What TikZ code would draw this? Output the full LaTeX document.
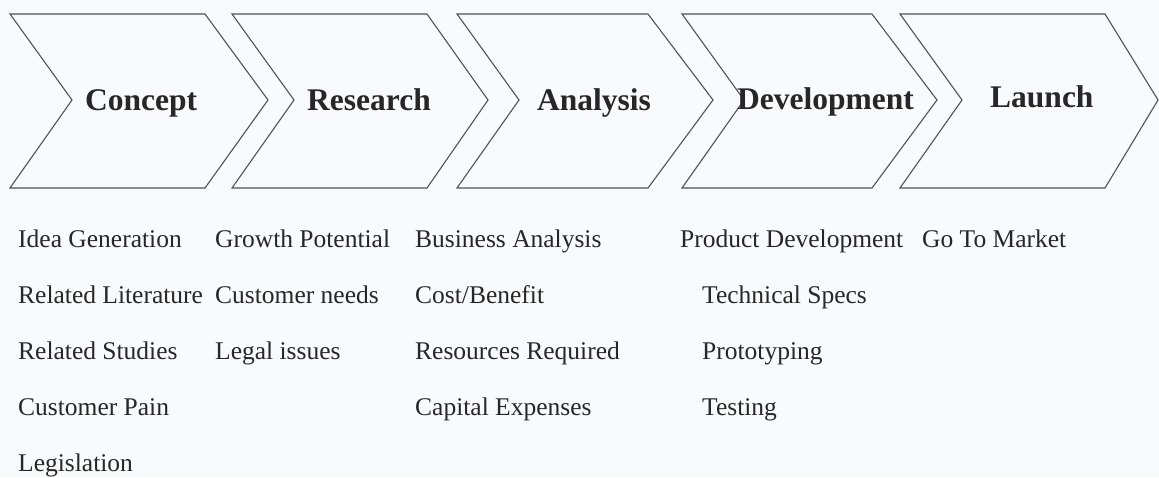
\documentclass[tikz,border=0pt]{standalone}
\usepackage{fontspec}
\setmainfont{Liberation Serif}
\usetikzlibrary{positioning}
\tikzset{>=stealth}
\definecolor{paper}{RGB}{249,250,253}
\definecolor{ink}{RGB}{40,38,40}

\begin{document}
\begin{tikzpicture}[
    x=1pt, y=-1pt,
    chevron/.style={
      draw=ink!80,
      line width=1.1pt,
      line join=miter,
    },
    stage/.style={
      anchor=base west,
      inner sep=0pt,
      text=ink,
      font=\fontsize{31.5}{36}\selectfont\bfseries,
    },
    task/.style={
      anchor=base west,
      inner sep=0pt,
      text=ink,
      font=\fontsize{25.5}{30}\selectfont,
    },
  ]
  \fill[paper] (0,0) rectangle (1159,477);
  \useasboundingbox (0,0) rectangle (1159,477);

  % chevrons: left edge / top right corner / tip
  \foreach \l/\r/\t in {10/205/268, 232/427/488, 457/648/713, 682/872/937, 900/1105/1158}
    \draw[chevron] (\l,14) -- (\r,14) -- (\t,100) -- (\r,188) -- (\l,188) -- (\l+62,100) -- cycle;

  \node[stage] (concept) at (85,110) {Concept};
  \node[stage] (research) at (307,110) {Research};
  \node[stage] (analysis) at (537,110) {Analysis};
  \node[stage] (development) at (737,109) {Development};
  \node[stage] (launch) at (990,107) {Launch};

  % tasks under each stage
  \foreach \txt [count=\i] in {Idea Generation, Related Literature, Related Studies, Customer Pain, Legislation}
    \node[task] (concept-\i) at (18,{247+56*(\i-1)}) {\txt};
  \foreach \txt [count=\i] in {Growth Potential, Customer needs, Legal issues}
    \node[task] (research-\i) at (215,{247+56*(\i-1)}) {\txt};
  \foreach \txt [count=\i] in {Business Analysis, Cost/Benefit, Resources Required, Capital Expenses}
    \node[task] (analysis-\i) at (415,{247+56*(\i-1)}) {\txt};
  \node[task] (development-1) at (680,247) {Product Development};
  \foreach \txt [count=\i from 2] in {Technical Specs, Prototyping, Testing}
    \node[task] (development-\i) at (702,{247+56*(\i-1)}) {\txt};
  \node[task] (launch-1) at (922,247) {Go To Market};
\end{tikzpicture}
\end{document}
